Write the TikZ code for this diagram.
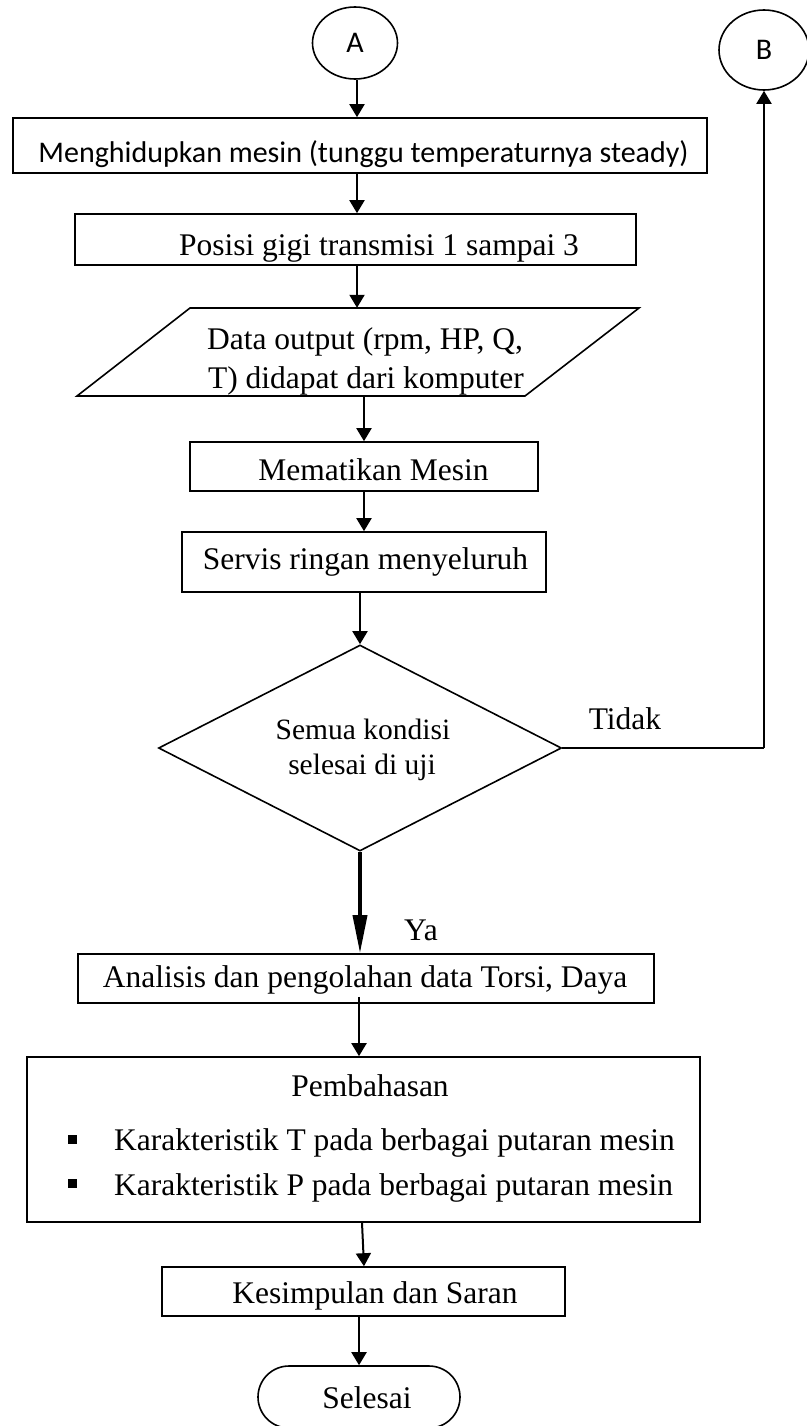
\documentclass[tikz,border=0pt]{standalone}
\usepackage{fontspec}
\setmainfont{Liberation Serif}
\newfontfamily\carfont{Carlito}
\usetikzlibrary{arrows.meta,shapes.geometric,calc}
\tikzset{
  boxline/.style={draw, line width=1.6pt, inner sep=0pt},
  bx/.style={boxline, rectangle},
  conn/.style={line width=2pt, -{Triangle[width=15pt,length=13pt]}},
  connthick/.style={line width=3.6pt, -{Triangle[width=14pt,length=38pt]}},
  plain/.style={line width=1.8pt},
  txt/.style={inner sep=0pt, anchor=base, font=\fontsize{31.5}{39}\selectfont},
  sans/.style={inner sep=0pt, font=\carfont\fontsize{30}{35}\selectfont},
  dtxt/.style={inner sep=0pt, anchor=base, font=\fontsize{29.5}{35}\selectfont},
  bul/.style={fill=black, draw=none, minimum size=9pt, inner sep=0pt, rectangle}
}
\begin{document}
\begin{tikzpicture}[x=1pt,y=-1pt]
\useasboundingbox (0,0) rectangle (806,1426);

% connectors A and B
\node[boxline, ellipse, minimum width=85pt, minimum height=72pt] (A) at (355,43) {};
\node[sans] (At) at (355,43) {A};
\node[boxline, ellipse, minimum width=90pt, minimum height=80pt] (B) at (764,50) {};
\node[sans] (Bt) at (764,50) {B};

% box 1
\node[bx, minimum width=694pt, minimum height=55pt] (b1) at (360,145.5) {};
\node[sans, anchor=base] (b1t) at (363.5,162) {Menghidupkan mesin (tunggu temperaturnya steady)};

% box 2
\node[bx, minimum width=561pt, minimum height=51pt] (b2) at (355.5,239.5) {};
\node[txt] (b2t) at (379,255) {Posisi gigi transmisi 1 sampai 3};

% parallelogram
\draw[line width=1.6pt] (190,308) -- (639,308) -- (525,396) -- (77,396) -- cycle;
\node[minimum width=562pt, minimum height=88pt, inner sep=0pt] (para) at (358,352) {};
\node[txt] (pt1) at (365,349) {Data output (rpm, HP, Q,};
\node[txt] (pt2) at (366,388) {T) didapat dari komputer};

% Mematikan
\node[bx, minimum width=348pt, minimum height=49pt] (M) at (364,466.5) {};
\node[txt] (Mt) at (373.5,480) {Mematikan Mesin};

% Servis
\node[bx, minimum width=364pt, minimum height=60pt] (S) at (364,562) {};
\node[txt] (St) at (365.5,569) {Servis ringan menyeluruh};

% diamond
\node[boxline, diamond, minimum width=403pt, minimum height=206pt] (D) at (360,748) {};
\node[dtxt] (Dt1) at (363,739) {Semua kondisi};
\node[dtxt] (Dt2) at (362,774) {selesai di uji};
\node[txt] (tidak) at (625,729) {Tidak};
\node[txt] (ya) at (421,940) {Ya};

% Analisis
\node[bx, minimum width=576pt, minimum height=49pt] (An) at (366,978.5) {};
\node[txt] (Ant) at (365,987) {Analisis dan pengolahan data Torsi, Daya};

% Pembahasan
\node[bx, minimum width=673pt, minimum height=165pt] (P) at (363.5,1139.5) {};
\node[txt] (Pt) at (370,1096) {Pembahasan};
\node[bul] (bu1) at (72.5,1139) {};
\node[bul] (bu2) at (72.5,1183) {};
\node[txt, anchor=base west] (P1) at (114,1150) {Karakteristik T pada berbagai putaran mesin};
\node[txt, anchor=base west] (P2) at (114,1195) {Karakteristik P pada berbagai putaran mesin};

% Kesimpulan
\node[bx, minimum width=403pt, minimum height=49pt] (K) at (363.5,1291.5) {};
\node[txt] (Kt) at (375,1303) {Kesimpulan dan Saran};

% Selesai
\node[bx, minimum width=202pt, minimum height=62pt, rounded corners=31pt] (Sel) at (359,1397) {};
\node[txt] (Selt) at (367,1408) {Selesai};

% arrows
\draw[conn] (A.south -| 357,0) -- (b1.north -| 357,0);
\draw[conn] (b1.south -| 357,0) -- (b2.north -| 357,0);
\draw[conn] (b2.south -| 357,0) -- (para.north -| 357,0);
\draw[conn] (para.south -| 364,0) -- (M.north -| 364,0);
\draw[conn] (M.south -| 364,0) -- (S.north -| 364,0);
\draw[conn] (S.south -| 360,0) -- (D.north);
\draw[connthick] (D.south) -- (An.north -| D.south);
\draw[conn] ([yshift=7pt]An.south -| 359,0) -- (P.north -| 359,0);
\draw[conn] (P.south -| 362,0) -- (K.north -| 364,0);
\draw[conn] (K.south -| 359,0) -- (Sel.north -| 359,0);
\draw[plain] (D.east) -- (B.south |- D.east);
\draw[conn] (B.south |- D.east) -- (B.south);
\end{tikzpicture}
\end{document}
